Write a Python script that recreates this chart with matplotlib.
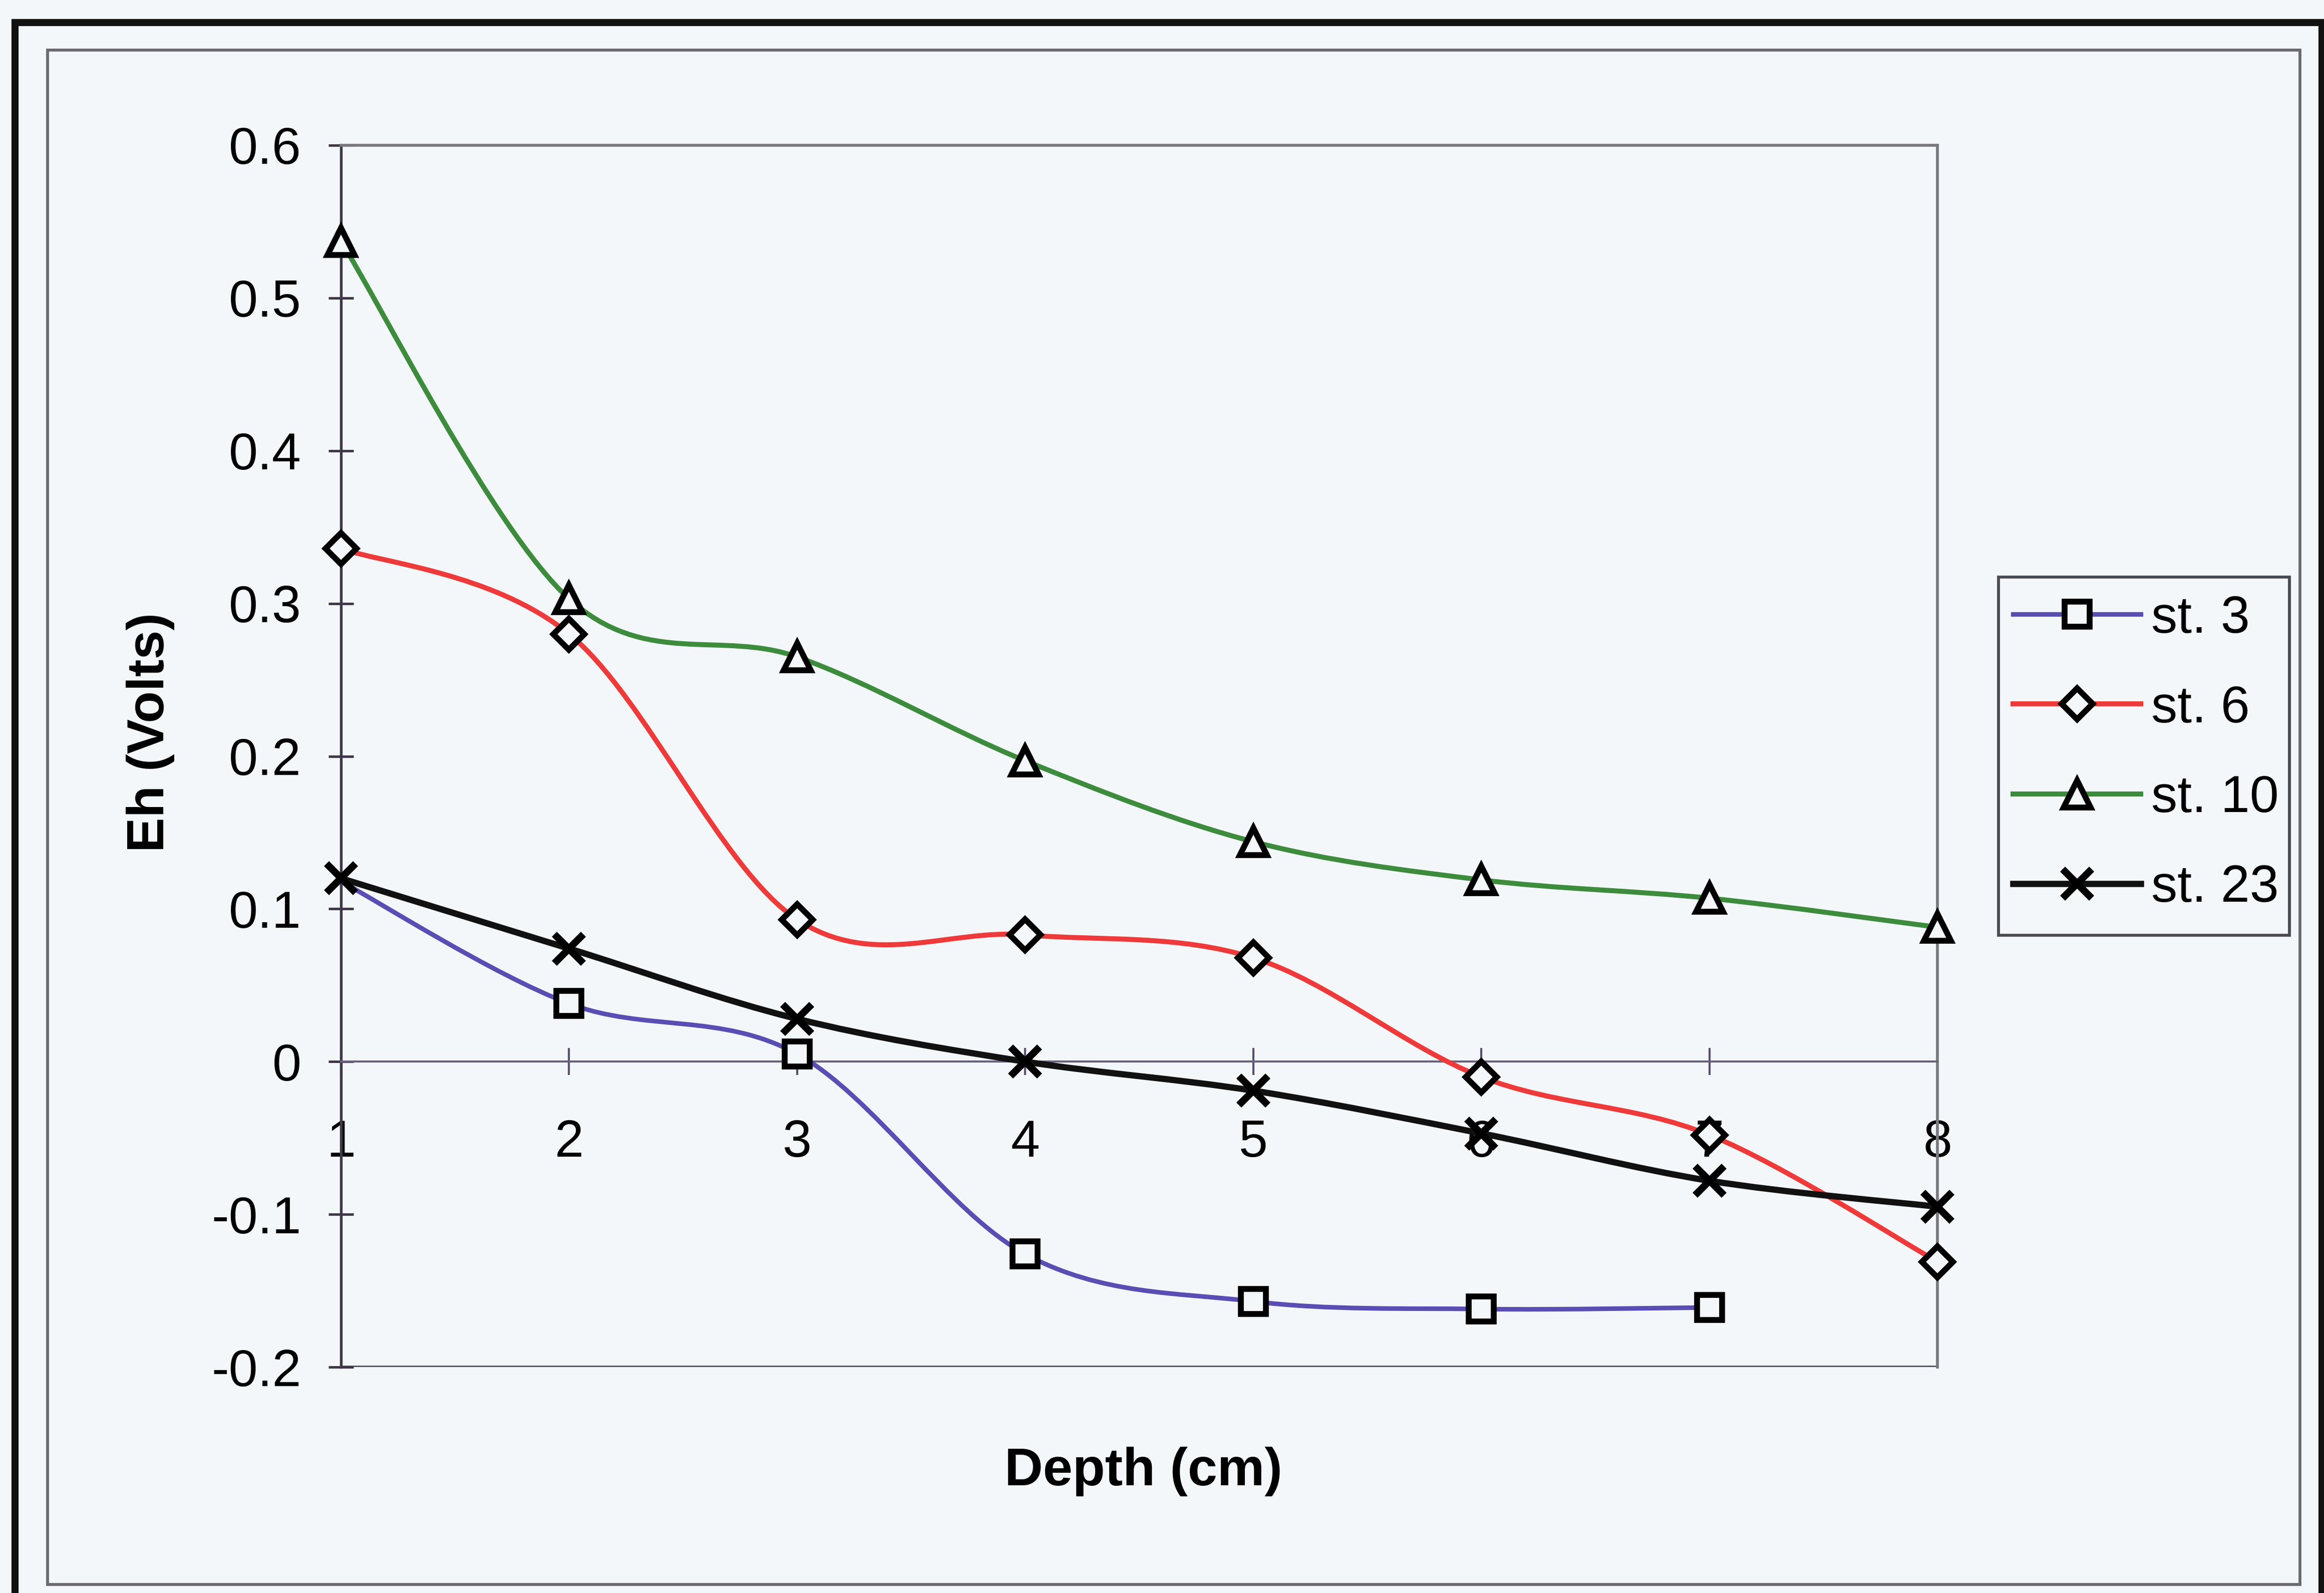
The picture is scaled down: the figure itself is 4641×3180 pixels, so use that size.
import numpy as np
import matplotlib
matplotlib.use("Agg")
import matplotlib.pyplot as plt
from matplotlib.path import Path
from matplotlib.patches import PathPatch, Rectangle
from matplotlib.lines import Line2D

plt.rcParams['font.family'] = ['Liberation Sans', 'DejaVu Sans']

# values
depth = [1, 2, 3, 4, 5, 6, 7, 8]
st3 = [0.118, 0.038, 0.005, -0.126, -0.157, -0.162, -0.161]
st6 = [0.336, 0.280, 0.093, 0.083, 0.068, -0.010, -0.048, -0.131]
st10 = [0.537, 0.303, 0.265, 0.197, 0.144, 0.119, 0.107, 0.088]
st23 = [0.120, 0.074, 0.028, 0.000, -0.019, -0.047, -0.078, -0.095]

yticks = [-0.2, -0.1, 0, 0.1, 0.2, 0.3, 0.4, 0.5, 0.6]
ytick_labels = ["-0.2", "-0.1", "0", "0.1", "0.2", "0.3", "0.4", "0.5", "0.6"]
series_labels = ["st. 3", "st. 6", "st. 10", "st. 23"]

BG = "#f3f7fa"
W, H = 4641, 3180


def smooth_path(xs, ys):
    # excel style smoothed line (catmull-rom as cubic bezier)
    pts = np.column_stack([xs, ys]).astype(float)
    n = len(pts)
    verts = [pts[0]]
    codes = [Path.MOVETO]
    for i in range(n - 1):
        p0 = pts[i - 1] if i > 0 else pts[i]
        p1 = pts[i]
        p2 = pts[i + 1]
        p3 = pts[i + 2] if i + 2 < n else pts[i + 1]
        verts += [p1 + (p2 - p0) / 6.0, p2 - (p3 - p1) / 6.0, p2]
        codes += [Path.CURVE4] * 3
    return Path(verts, codes)


fig = plt.figure(figsize=(W / 300, H / 300), dpi=300, facecolor=BG)

# frames of the scanned page
fig.patches.append(Rectangle((30 / W, 1 - 3230 / H), (4637 - 30) / W, (3230 - 45) / H,
                             transform=fig.transFigure, fill=False, ec="#111111", lw=3.4))
fig.patches.append(Rectangle((95 / W, 1 - 3163 / H), (4593 - 95) / W, (3163 - 100) / H,
                             transform=fig.transFigure, fill=False, ec="#6a6a72", lw=1.4))

ax = fig.add_axes([681 / W, 1 - 2729 / H, (3869 - 681) / W, (2729 - 290) / H])
ax.set_facecolor(BG)
ax.set_xlim(1, 8)
ax.set_ylim(-0.2, 0.6)

styles = [
    (st3, "#5a4db3", "s", 2.2, 12, range(1, 7)),
    (st6, "#ee3a3a", "D", 2.4, 10.5, None),
    (st10, "#3d8c3d", "^", 2.4, 13, None),
    (st23, "#111111", "x", 3.0, 14, None),
]

handles = []
for vals, col, mk, lw, ms, me in styles:
    xs = depth[:len(vals)]
    ax.add_patch(PathPatch(smooth_path(xs, vals), fill=False, ec=col, lw=lw, zorder=3,
                           clip_on=False))
    mew = 3.4 if mk == "x" else 2.8
    ax.plot(xs, vals, linestyle="none", marker=mk, ms=ms, mfc=BG, mec="black",
            mew=mew, markevery=me, zorder=4, clip_on=False)
    handles.append(Line2D([], [], color=col, lw=lw, marker=mk, ms=ms, mfc=BG, mec="black",
                          mew=mew))

# axes styling: x axis crosses at 0, plot area border around
for s in ["top", "right"]:
    ax.spines[s].set_color("#7a7a80")
    ax.spines[s].set_linewidth(1.4)
ax.spines["left"].set_color("#403848")
ax.spines["left"].set_linewidth(1.3)
ax.spines["bottom"].set_position(("data", 0))
ax.spines["bottom"].set_color("#6a6080")
ax.spines["bottom"].set_linewidth(1.0)
ax.axhline(-0.2, color="#5a5a62", lw=1.4, zorder=1)

ax.set_xticks(depth)
ax.set_xticklabels([str(d) for d in depth])
ax.set_yticks(yticks)
ax.set_yticklabels(ytick_labels)
ax.tick_params(axis="x", direction="inout", length=13, width=1.0, color="#5a5070",
               labelsize=25, pad=21)
ax.tick_params(axis="y", direction="inout", length=12, width=1.2, color="#403848",
               labelsize=25, pad=13)

fig.text(2283 / W, 1 - 2965 / H, "Depth (cm)", fontsize=25.5, fontweight="bold",
         ha="center", va="baseline")
fig.text(300 / W, 1 - 1462 / H, "Eh (Volts)", fontsize=25, fontweight="bold",
         rotation=90, ha="center", va="center")

# legend box
fig.patches.append(Rectangle((3991 / W, 1 - 1867 / H), (4572 - 3991) / W, (1867 - 1152) / H,
                             transform=fig.transFigure, fill=False, ec="#4a4a52", lw=1.4))
fig.legend(handles, series_labels, loc="center left",
           bbox_to_anchor=(4020 / W, 1 - 1505 / H), frameon=False,
           fontsize=25, handlelength=2.45, handletextpad=0.2, borderpad=0,
           borderaxespad=0, labelspacing=0.79)

fig.savefig("out.png", dpi=300, facecolor=BG)
plt.close()
